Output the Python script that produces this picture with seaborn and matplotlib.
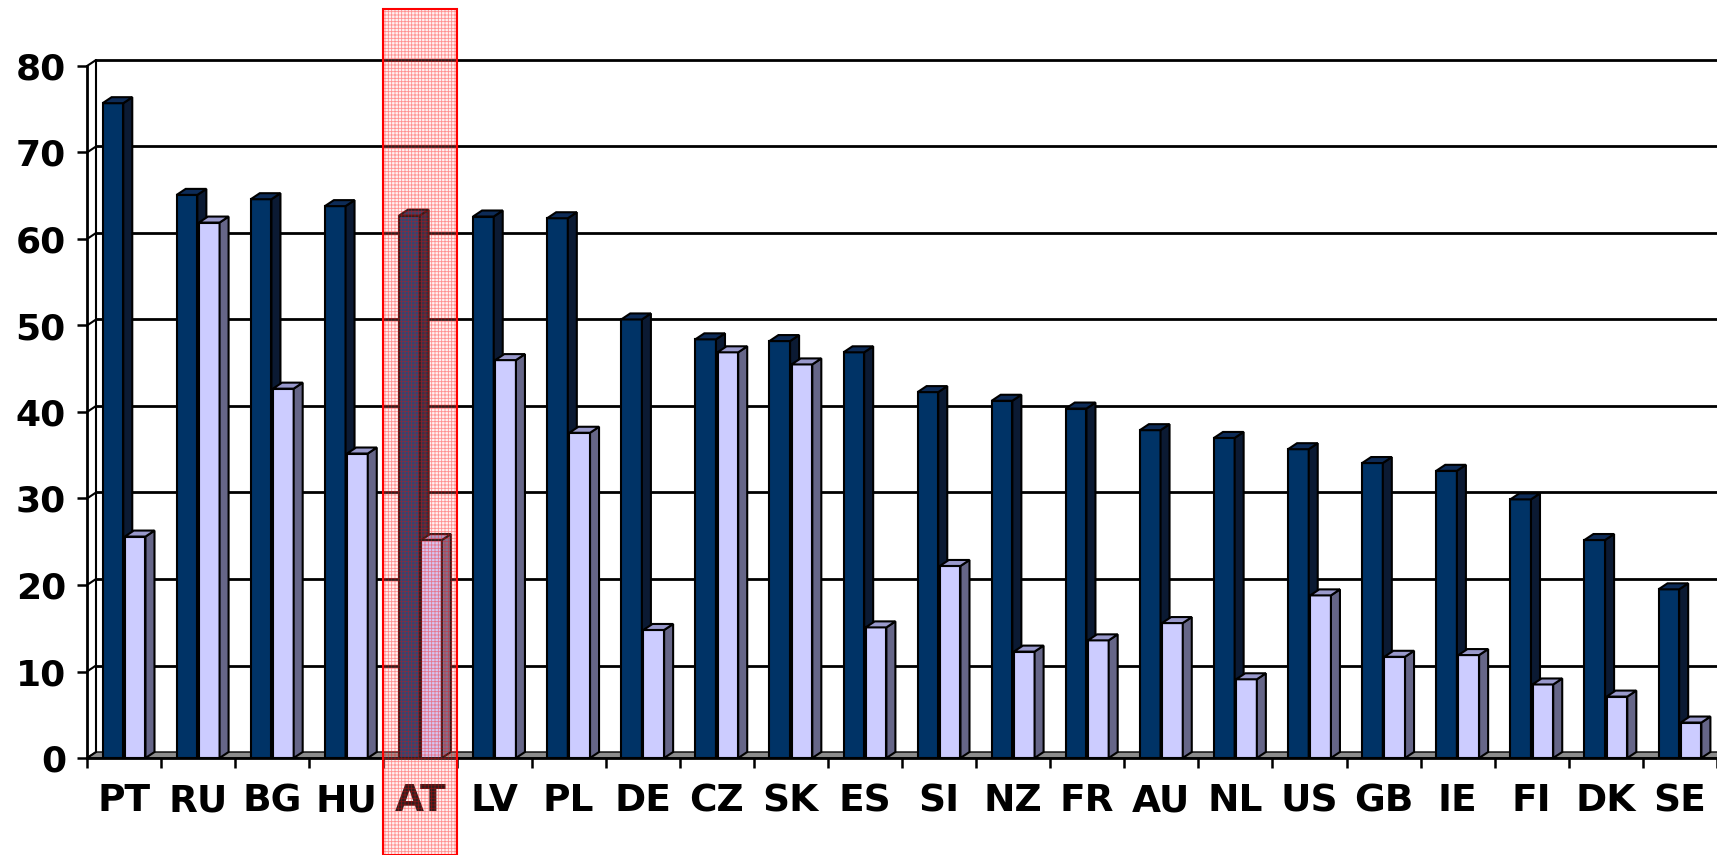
import numpy as np
import pandas as pd
import matplotlib
matplotlib.use("Agg")
import matplotlib.pyplot as plt
import matplotlib.transforms as mtransforms
from matplotlib.patches import Polygon, Rectangle
import seaborn as sns

# ── Data ─────────────────────────────────────────────────────────────────
countries = ["PT", "RU", "BG", "HU", "AT", "LV", "PL", "DE", "CZ", "SK", "ES",
             "SI", "NZ", "FR", "AU", "NL", "US", "GB", "IE", "FI", "DK", "SE"]
series_1 = [75.7, 65.1, 64.6, 63.8, 62.7, 62.6, 62.4, 50.7, 48.4, 48.2, 46.9,
            42.3, 41.3, 40.4, 37.9, 37.0, 35.7, 34.1, 33.2, 29.9, 25.2, 19.5]
series_2 = [25.6, 61.9, 42.7, 35.2, 25.2, 46.0, 37.6, 14.8, 46.9, 45.5, 15.1,
            22.2, 12.3, 13.6, 15.6, 9.1, 18.8, 11.7, 11.9, 8.5, 7.1, 4.1]
series_names = ["Series 1", "Series 2"]
highlight = "AT"
y_ticks = [0, 10, 20, 30, 40, 50, 60, 70, 80]

# ── Style ────────────────────────────────────────────────────────────────
DARK = "#003366"
DARK_SIDE = "#0b1a33"
DARK_TOP = "#0d2b57"
LIGHT = "#ccccff"
LIGHT_SIDE = "#666688"
LIGHT_TOP = "#9999cc"

W, H = 1717, 855
PX_PER_CAT = (W - 87) / len(countries)
PX_PER_UNIT = (758 - 66) / 80
DX = 9 / PX_PER_CAT        # depth offset in data units (x)
DY = 6 / PX_PER_UNIT       # depth offset in data units (y)

sns.set_style("white")
plt.rcParams["font.family"] = ["DejaVu Sans"]
plt.rcParams["hatch.linewidth"] = 0.6

df = pd.DataFrame({
    "country": countries * 2,
    "value": series_1 + series_2,
    "series": [series_names[0]] * len(countries) + [series_names[1]] * len(countries),
})

fig = plt.figure(figsize=(W / 100, H / 100), dpi=100)
ax = fig.add_axes([87 / W, (H - 758) / H, 1 - 87 / W, (758 - 66) / H])

sns.barplot(
    data=df, x="country", y="value", hue="series",
    palette=[DARK, LIGHT], saturation=1, width=0.6, gap=0.07,
    edgecolor="black", linewidth=1.5, legend=False, ax=ax,
)

ax.set_xlim(-0.5, len(countries) - 0.5)
ax.set_ylim(0, 80)

# fake 3D: side and top faces for every bar
for ci, (side_c, top_c, z) in enumerate([(DARK_SIDE, DARK_TOP, 3), (LIGHT_SIDE, LIGHT_TOP, 4)]):
    for bar in ax.containers[ci]:
        x0, y0 = bar.get_x(), bar.get_y()
        x1, y1 = x0 + bar.get_width(), y0 + bar.get_height()
        bar.set_zorder(z)
        side = Polygon([(x1, y0), (x1 + DX, y0 + DY), (x1 + DX, y1 + DY), (x1, y1)],
                       closed=True, facecolor=side_c, edgecolor="black", lw=1.5, zorder=z)
        top = Polygon([(x0, y1), (x1, y1), (x1 + DX, y1 + DY), (x0 + DX, y1 + DY)],
                      closed=True, facecolor=top_c, edgecolor="black", lw=1.5, zorder=z)
        ax.add_patch(side)
        ax.add_patch(top)

# floor, back wall grid, side wall
xl, xr = -0.5, len(countries) - 0.5
ax.add_patch(Polygon([(xl, 0), (xr + 1, 0), (xr + 1 + DX, DY), (xl + DX, DY)],
                     closed=True, facecolor="#8c8c8c", edgecolor="black", lw=1, zorder=1))
for v in y_ticks[1:]:
    ax.plot([xl + DX, xr + 1], [v + DY, v + DY], color="black", lw=2, zorder=1.5, clip_on=False)
for v in y_ticks:
    ax.plot([xl, xl + DX], [v, v + DY], color="black", lw=1.5, zorder=1.5, clip_on=False)
ax.plot([xl + DX, xl + DX], [DY, 80 + DY], color="black", lw=1.5, zorder=1.5, clip_on=False)

# axes and ticks
for s in ["top", "right"]:
    ax.spines[s].set_visible(False)
for s in ["left", "bottom"]:
    ax.spines[s].set_linewidth(2)
    ax.spines[s].set_color("black")
    ax.spines[s].set_zorder(5)
ax.set_yticks(y_ticks)
ax.set_xticks(range(len(countries)))
ax.set_xticks(np.arange(len(countries) + 1) - 0.5, minor=True)
ax.tick_params(axis="y", length=7.2, width=1.8, pad=8, labelsize=26,
               colors="black", left=True)
ax.tick_params(axis="x", which="major", length=0, pad=18, labelsize=27, colors="black")
ax.tick_params(axis="x", which="minor", length=7.2, width=1.8, color="black", bottom=True)
for lbl in ax.get_xticklabels() + ax.get_yticklabels():
    lbl.set_fontweight("heavy")
ax.set_xlabel("")
ax.set_ylabel("")

# highlight box over AT
hi = countries.index(highlight)
trans = mtransforms.blended_transform_factory(ax.transData, fig.transFigure)
ax.add_patch(Rectangle((hi - 0.5, 0), 1, (H - 9) / H, transform=trans, clip_on=False,
                       facecolor=(1, 0.7, 0.7, 0.18), edgecolor=(1, 0, 0, 0.4),
                       hatch="+++++", lw=0, zorder=10))
ax.add_patch(Rectangle((hi - 0.5, 0), 1, (H - 9) / H, transform=trans, clip_on=False,
                       facecolor="none", edgecolor="red", lw=1.5, zorder=11))

fig.savefig("out.png", dpi=100)
